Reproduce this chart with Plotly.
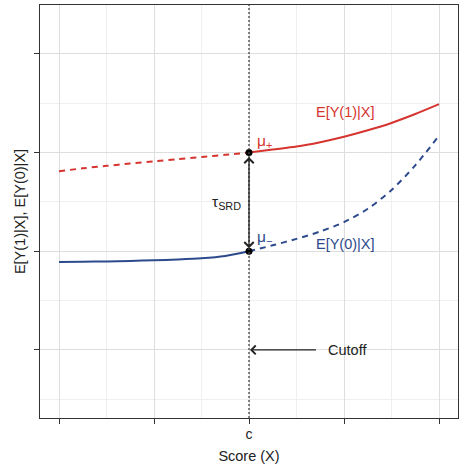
import plotly.graph_objects as go

# ---- data ----
x_left = [-1.0, -0.875, -0.75, -0.625, -0.5, -0.375, -0.25, -0.125, 0.0]
x_right = [0.0, 0.125, 0.25, 0.375, 0.5, 0.625, 0.75, 0.875, 1.0]
y1_left = [1.81, 1.84, 1.865, 1.888, 1.91, 1.932, 1.955, 1.977, 2.0]      # E[Y(1)|X] dashed
y0_left = [0.89, 0.893, 0.897, 0.902, 0.908, 0.916, 0.928, 0.952, 1.0]    # E[Y(0)|X] solid
y1_right = [2.0, 2.03, 2.06, 2.105, 2.16, 2.225, 2.30, 2.39, 2.49]        # E[Y(1)|X] solid
y0_right = [1.0, 1.06, 1.125, 1.20, 1.295, 1.43, 1.62, 1.87, 2.17]        # E[Y(0)|X] dashed
x_ticks = [-1, -0.5, 0, 0.5, 1]
x_ticklabels = ["", "", "c", "", ""]
y_ticks = [0, 1, 2, 3]
cutoff = 0.0
mu_plus = 2.0
mu_minus = 1.0

RED = "#D6342F"
BLUE = "#2D4A8D"
FONT = "Liberation Sans, Arial, Helvetica, sans-serif"

fig = go.Figure()
fig.add_trace(go.Scatter(x=x_left, y=y1_left, mode="lines", line=dict(color=RED, width=2, dash="6px,5px", shape="spline", smoothing=0.8)))
fig.add_trace(go.Scatter(x=x_right, y=y1_right, mode="lines", line=dict(color=RED, width=2, shape="spline", smoothing=0.8)))
fig.add_trace(go.Scatter(x=x_left, y=y0_left, mode="lines", line=dict(color=BLUE, width=2, shape="spline", smoothing=0.8)))
fig.add_trace(go.Scatter(x=x_right, y=y0_right, mode="lines", line=dict(color=BLUE, width=2, dash="6px,5px", shape="spline", smoothing=0.8)))
fig.add_trace(go.Scatter(x=[cutoff, cutoff], y=[mu_plus, mu_minus], mode="markers",
                         marker=dict(color="black", size=7)))

# dotted cutoff line
fig.add_shape(type="line", x0=cutoff, x1=cutoff, xref="x", yref="paper", y0=0, y1=1,
              line=dict(color="#444444", width=1.3, dash="2px,2px"))

# double-headed arrow between mu's
fig.add_annotation(x=cutoff, y=mu_minus, ax=cutoff, ay=mu_plus, xref="x", yref="y",
                   axref="x", ayref="y", showarrow=True, arrowside="end+start",
                   arrowhead=4, startarrowhead=4, arrowsize=1.4, startarrowsize=1.4,
                   arrowwidth=1.3, arrowcolor="#222222", text="", standoff=3, startstandoff=3)
# cutoff arrow
fig.add_annotation(x=cutoff, y=0, ax=0.36, ay=0, xref="x", yref="y", axref="x", ayref="y",
                   showarrow=True, arrowhead=4, arrowsize=1.3, arrowwidth=1.3,
                   arrowcolor="#222222", text="", standoff=1)

def txt(x, y, s, color="#222222", size=14.5):
    fig.add_annotation(x=x, y=y, xref="x", yref="y", text=s, showarrow=False,
                       font=dict(color=color, size=size, family=FONT))

txt(0.52, 0.0, "Cutoff")
txt(0.51, 2.41, "E[Y(1)|X]", RED)
txt(0.51, 1.07, "E[Y(0)|X]", BLUE)
txt(0.08, 2.11, "μ<sub>+</sub>", RED, 15.5)
txt(0.08, 1.14, "μ<sub>−</sub>", BLUE, 15.5)
txt(-0.12, 1.49, "τ<sub>SRD</sub>", "#222222", 15.5)

fig.update_layout(
    width=461, height=465,
    margin=dict(l=40, r=3, t=5, b=47),
    plot_bgcolor="white", paper_bgcolor="white",
    showlegend=False,
    font=dict(family=FONT, color="#222222", size=14),
)
fig.update_xaxes(
    range=[-1.1, 1.1], tickvals=x_ticks, ticktext=x_ticklabels,
    ticks="outside", ticklen=5, tickcolor="#333333", tickwidth=1,
    ticklabelstandoff=-2,
    showgrid=True, gridcolor="#DEDEDE", gridwidth=1.1,
    minor=dict(tickvals=[-0.75, -0.25, 0.25, 0.75], showgrid=True, gridcolor="#EFEFEF", gridwidth=0.8, ticks=""),
    zeroline=False, showline=True, linecolor="#333333", linewidth=1.2, mirror=True,
    title=dict(text="Score (X)", font=dict(size=14.5), standoff=9),
    tickfont=dict(size=14),
)
fig.update_yaxes(
    range=[-0.69, 3.495], tickvals=y_ticks, ticktext=["", "", "", ""],
    ticks="outside", ticklen=5, tickcolor="#333333", tickwidth=1,
    showgrid=True, gridcolor="#DEDEDE", gridwidth=1.1,
    minor=dict(tickvals=[-0.5, 0.5, 1.5, 2.5], showgrid=True, gridcolor="#EFEFEF", gridwidth=0.8, ticks=""),
    zeroline=False, showline=True, linecolor="#333333", linewidth=1.2, mirror=True,
    title=dict(text="E[Y(1)|X], E[Y(0)|X]", font=dict(size=14.5), standoff=2),
)

fig.write_html("out.html")
